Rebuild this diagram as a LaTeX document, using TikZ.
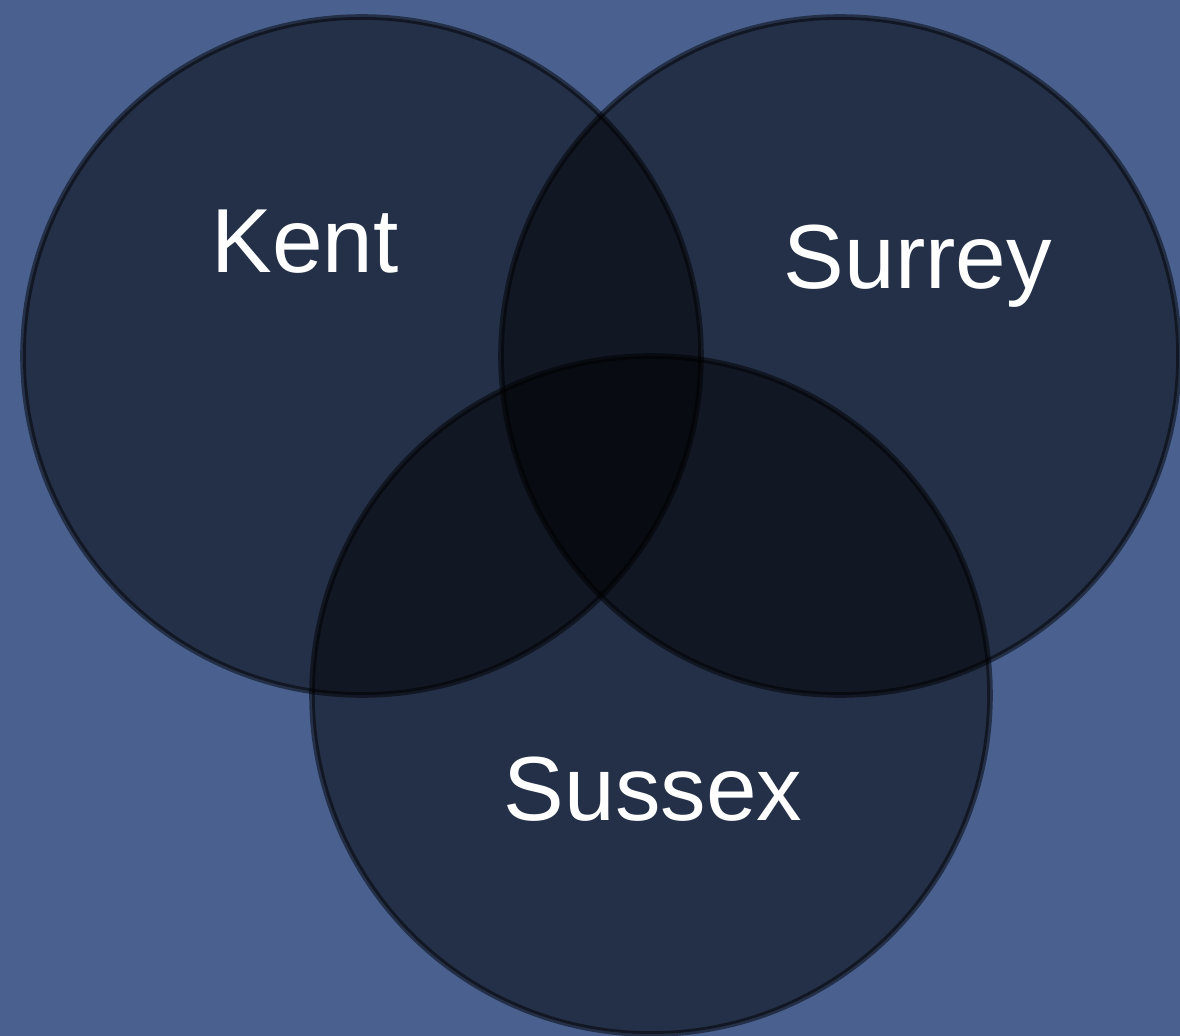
\documentclass[tikz,border=0pt]{standalone}
\usepackage{fontspec}
\setmainfont{Liberation Sans}
\definecolor{bgblue}{HTML}{4A6190}
\begin{document}
\begin{tikzpicture}[x=0.5pt,y=-0.5pt,
  setcircle/.style={fill=black,fill opacity=0.5,draw=black,draw opacity=0.5,line width=2.8pt},
  setlabel/.style={text=white,inner sep=0pt,anchor=base,font=\fontsize{45.5pt}{52pt}\selectfont}]
  \fill[bgblue] (0,0) rectangle (1180,1036);
  \useasboundingbox (0,0) rectangle (1180,1036);
  \draw[setcircle] (362,356) circle[radius=339];
  \draw[setcircle] (840,356) circle[radius=339];
  \draw[setcircle] (651,695) circle[radius=339];
  \node[setlabel] (kent) at (305,273) {Kent};
  \node[setlabel] (surrey) at (918,289) {Surrey};
  \node[setlabel] (sussex) at (653,821) {Sussex};
\end{tikzpicture}
\end{document}
